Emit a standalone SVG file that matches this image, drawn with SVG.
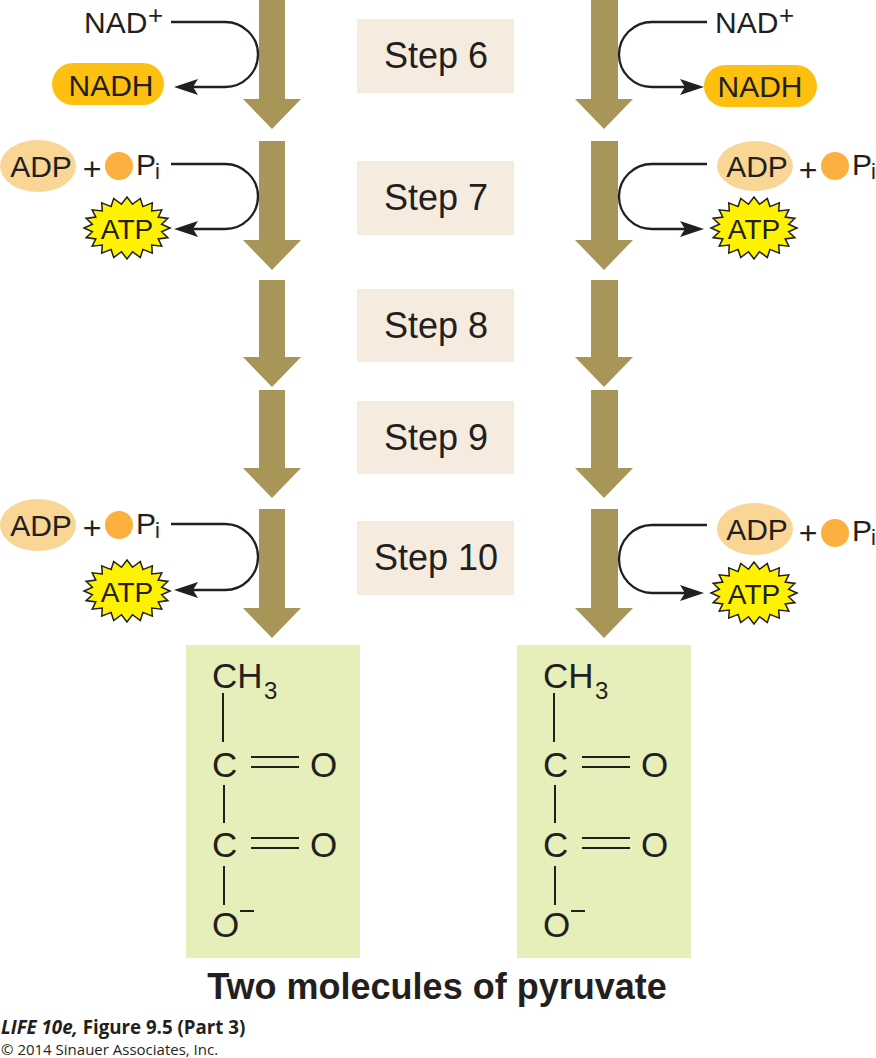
<svg xmlns="http://www.w3.org/2000/svg" xmlns:xlink="http://www.w3.org/1999/xlink" width="876" height="1058" viewBox="0 0 876 1058">
<style>
text{font-family:"Liberation Sans",Arial,sans-serif;fill:#231f20}
.lb{font-size:30px}
.atp{font-size:28px;text-anchor:middle}
.st{font-size:36px;text-anchor:middle}
.mid{text-anchor:middle}
.sup{font-size:26px}
.sub{font-size:22px}
.pl{font-size:32px;text-anchor:middle}
.chem{font-size:35px}
.box{fill:#f5ebdf}
.pyr{fill:#e6efb9}
.big{fill:#a89558}
.pill{fill:#fdc010}
.adp{fill:#f9d596}
.pi{fill:#fbb040}
.burst{fill:#fff200;stroke:#231f20;stroke-width:1.5}
.con{fill:none;stroke:#231f20;stroke-width:2.3}
.bond{stroke:#231f20;stroke-width:2;fill:none}
.foot{font-family:"Open Sans",sans-serif;font-size:18.7px}
.foot2{font-family:"Open Sans",sans-serif;font-size:15px}
</style>
<defs>
<marker id="ah" markerUnits="userSpaceOnUse" markerWidth="26" markerHeight="18" refX="8" refY="9" orient="auto">
<path d="M0 1 L24 9 L0 17 L5 9Z" fill="#231f20"/>
</marker>
<polygon id="b" class="burst" points="43,0 34.6,3.7 40.9,9.6 31.2,10.9 34.8,18.2 24.7,17 25.3,25.1 15.9,21.4 13.3,29.5 5.5,23.7 0,31 -5.5,23.7 -13.3,29.5 -15.9,21.4 -25.3,25.1 -24.7,17 -34.8,18.2 -31.2,10.9 -40.9,9.6 -34.6,3.7 -43,0 -34.6,-3.7 -40.9,-9.6 -31.2,-10.9 -34.8,-18.2 -24.7,-17 -25.3,-25.1 -15.9,-21.4 -13.3,-29.5 -5.5,-23.7 0,-31 5.5,-23.7 13.3,-29.5 15.9,-21.4 25.3,-25.1 24.7,-17 34.8,-18.2 31.2,-10.9 40.9,-9.6 34.6,-3.7"/>
</defs>
<rect width="876" height="1058" fill="#fff"/>

<g id="big-arrows">
<polygon class="big" points="259,0 285,0 285,99 301,99 272,129 243,99 259,99"/>
<polygon class="big" points="259,141 285,141 285,240 301,240 272,270 243,240 259,240"/>
<polygon class="big" points="259,280 285,280 285,357 301,357 272,387 243,357 259,357"/>
<polygon class="big" points="259,390 285,390 285,468 301,468 272,498 243,468 259,468"/>
<polygon class="big" points="259,509 285,509 285,608 301,608 272,638 243,608 259,608"/>
<polygon class="big" points="591,0 618,0 618,99 633,99 604,129 575,99 591,99"/>
<polygon class="big" points="591,141 618,141 618,240 633,240 604,270 575,240 591,240"/>
<polygon class="big" points="591,280 618,280 618,357 633,357 604,387 575,357 591,357"/>
<polygon class="big" points="591,390 618,390 618,468 633,468 604,498 575,468 591,468"/>
<polygon class="big" points="591,509 618,509 618,608 633,608 604,638 575,608 591,608"/>
</g>

<g id="connectors">
<path class="con" marker-end="url(#ah)" d="M171 22H225A33 32.5 0 0 1 225 87H190"/>
<path class="con" marker-end="url(#ah)" d="M171 164H225A33 32.5 0 0 1 225 229H190"/>
<path class="con" marker-end="url(#ah)" d="M171 524H225A33 33 0 0 1 225 590H190"/>
<path class="con" marker-end="url(#ah)" d="M707 22H652A33 32.5 0 0 0 652 87H688"/>
<path class="con" marker-end="url(#ah)" d="M707 164H652A33 32.5 0 0 0 652 229H688"/>
<path class="con" marker-end="url(#ah)" d="M707 525H652A33 34 0 0 0 652 593H688"/>
</g>

<g id="step6"><rect class="box" x="357" y="19" width="157" height="74"/><text class="st" x="436" y="68">Step 6</text></g>
<g id="step7"><rect class="box" x="357" y="161" width="157" height="74"/><text class="st" x="436" y="210">Step 7</text></g>
<g id="step8"><rect class="box" x="357" y="289" width="157" height="73"/><text class="st" x="436" y="338">Step 8</text></g>
<g id="step9"><rect class="box" x="357" y="401" width="157" height="73"/><text class="st" x="436" y="450">Step 9</text></g>
<g id="step10"><rect class="box" x="357" y="521" width="157" height="74"/><text class="st" x="436" y="570">Step 10</text></g>

<g id="nad-left"><text class="lb" x="84" y="33">NAD</text><text class="sup" x="148" y="24">+</text></g>
<g id="nadh-left"><rect class="pill" x="52" y="63" width="112" height="42" rx="21"/><text class="lb mid" x="111" y="96">NADH</text></g>
<g id="nad-right"><text class="lb" x="715" y="33">NAD</text><text class="sup" x="779" y="24">+</text></g>
<g id="nadh-right"><rect class="pill" x="704" y="65" width="113" height="42" rx="21"/><text class="lb mid" x="760" y="97">NADH</text></g>

<g id="adp-left-1"><ellipse class="adp" cx="38" cy="166" rx="38" ry="26"/><text class="lb mid" x="41" y="177">ADP</text><text class="pl" x="92" y="180">+</text><circle class="pi" cx="119" cy="166" r="14"/><text class="lb" x="136" y="175">P</text><text class="sub" x="155" y="179">i</text></g>
<g id="atp-left-1"><use href="#b" xlink:href="#b" x="127" y="228"/><text class="atp" x="127" y="239">ATP</text></g>
<g id="adp-right-1"><ellipse class="adp" cx="755" cy="166" rx="38" ry="25"/><text class="lb mid" x="757" y="177">ADP</text><text class="pl" x="808" y="181">+</text><circle class="pi" cx="835" cy="166" r="14"/><text class="lb" x="852" y="175">P</text><text class="sub" x="871" y="179">i</text></g>
<g id="atp-right-1"><use href="#b" xlink:href="#b" x="754" y="228"/><text class="atp" x="754" y="239">ATP</text></g>
<g id="adp-left-2"><ellipse class="adp" cx="38" cy="525" rx="38" ry="26"/><text class="lb mid" x="41" y="536">ADP</text><text class="pl" x="92" y="539">+</text><circle class="pi" cx="119" cy="525" r="14"/><text class="lb" x="136" y="534">P</text><text class="sub" x="155" y="538">i</text></g>
<g id="atp-left-2"><use href="#b" xlink:href="#b" x="127" y="591"/><text class="atp" x="127" y="602">ATP</text></g>
<g id="adp-right-2"><ellipse class="adp" cx="755" cy="529" rx="38" ry="26"/><text class="lb mid" x="757" y="540">ADP</text><text class="pl" x="808" y="544">+</text><circle class="pi" cx="835" cy="533" r="14"/><text class="lb" x="852" y="541">P</text><text class="sub" x="871" y="545">i</text></g>
<g id="atp-right-2"><use href="#b" xlink:href="#b" x="754" y="593"/><text class="atp" x="754" y="604">ATP</text></g>

<g id="pyruvate-left">
<rect class="pyr" x="186" y="645" width="174" height="313"/>
<text class="chem" x="212" y="688">CH</text><text class="sub" x="264" y="699" style="font-size:24px">3</text>
<path class="bond" d="M223 693V742M224 785V823M224 866V905M251 757H299M251 767H299M251 838H299M251 848H299"/>
<text class="chem" x="212" y="777">C</text><text class="chem" x="310" y="777">O</text>
<text class="chem" x="212" y="857">C</text><text class="chem" x="310" y="857">O</text>
<text class="chem" x="212" y="937">O</text><path class="bond" d="M240 911H254"/>
</g>
<g id="pyruvate-right">
<rect class="pyr" x="517" y="645" width="174" height="313"/>
<text class="chem" x="543" y="688">CH</text><text class="sub" x="595" y="699" style="font-size:24px">3</text>
<path class="bond" d="M554 693V742M555 785V823M555 866V905M582 757H630M582 767H630M582 838H630M582 848H630"/>
<text class="chem" x="543" y="777">C</text><text class="chem" x="641" y="777">O</text>
<text class="chem" x="543" y="857">C</text><text class="chem" x="641" y="857">O</text>
<text class="chem" x="543" y="937">O</text><path class="bond" d="M571 911H585"/>
</g>

<g id="caption"><text x="437" y="999" text-anchor="middle" font-weight="700" font-size="36">Two molecules of pyruvate</text></g>
<g id="credit">
<text class="foot" x="1" y="1034" font-weight="700"><tspan font-style="italic">LIFE 10e,</tspan> Figure 9.5 (Part 3)</text>
<text class="foot2" x="1" y="1055">© 2014 Sinauer Associates, Inc.</text>
</g>
</svg>
